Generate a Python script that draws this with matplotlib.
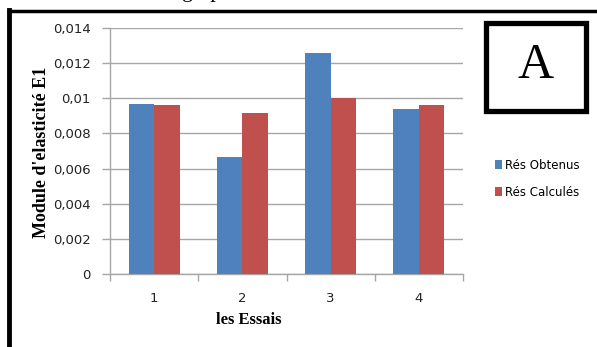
import numpy as np
import matplotlib.pyplot as plt
from matplotlib.lines import Line2D
from matplotlib.patches import Rectangle

# test values
essais = ['1', '2', '3', '4']
obtenus = [0.00967, 0.00668, 0.0126, 0.00939]
calcules = [0.0096, 0.00916, 0.00999, 0.0096]
yticks = [0, 0.002, 0.004, 0.006, 0.008, 0.01, 0.012, 0.014]
ytick_labels = ['0', '0,002', '0,004', '0,006', '0,008', '0,01', '0,012', '0,014']

blue = '#4F81BD'
red = '#C0504D'
grid_col = '#A6A6A6'

fig = plt.figure(figsize=(5.97, 3.47), dpi=100)
W, H = 597.0, 347.0

# plot area
ax = fig.add_axes([110 / W, 1 - 274 / H, 353 / W, 246 / H])

x = np.arange(len(essais))
bw = 0.29
ax.bar(x - bw / 2, obtenus, bw, color=blue, label='Rés Obtenus', zorder=3)
ax.bar(x + bw / 2, calcules, bw, color=red, label='Rés Calculés', zorder=3)

ax.set_xlim(-0.5, len(essais) - 0.5)
ax.set_ylim(0, 0.014)
ax.set_yticks(yticks)
ax.set_yticklabels(ytick_labels)
ax.yaxis.grid(True, color=grid_col, linewidth=1.0, zorder=0)

# category ticks sit between the groups, labels in the middle
ax.set_xticks(np.arange(-0.5, len(essais), 1.0))
ax.set_xticklabels([])
ax.set_xticks(x, minor=True)
ax.set_xticklabels(essais, minor=True)
ax.tick_params(axis='x', which='major', length=5, color=grid_col, width=1)
ax.tick_params(axis='x', which='minor', length=0, pad=13)
ax.tick_params(axis='y', length=6, color=grid_col, width=1, pad=8)
for lab in ax.get_yticklabels() + ax.get_xticklabels(minor=True):
    lab.set_fontfamily('DejaVu Sans')
    lab.set_fontsize(9.5)
    lab.set_color('#222222')

for side in ['top', 'right']:
    ax.spines[side].set_visible(False)
for side in ['left', 'bottom']:
    ax.spines[side].set_color(grid_col)
    ax.spines[side].set_linewidth(1.0)

# axis titles
fig.text(42 / W, 1 - 152 / H, "Module d'elasticité E1", rotation=90,
         ha='center', va='center', fontfamily='Liberation Serif',
         fontweight='bold', fontsize=13)
fig.text(249 / W, 1 - 320 / H, 'les Essais', ha='center', va='center',
         fontfamily='Liberation Serif', fontweight='bold', fontsize=12)

leg = ax.legend(loc='center left', bbox_to_anchor=(484 / W, 1 - 179 / H),
                bbox_transform=fig.transFigure, frameon=False,
                handlelength=0.6, handleheight=0.8, handletextpad=0.3,
                labelspacing=1.2, prop={'family': 'DejaVu Sans', 'size': 8.5})

# outer frame (left and top edges)
fig.add_artist(Line2D([9 / W, 9 / W], [0, 1 - 10 / H], transform=fig.transFigure,
                      color='black', linewidth=3.5, solid_capstyle='projecting'))
fig.add_artist(Line2D([9 / W, 1], [1 - 11 / H, 1 - 11 / H], transform=fig.transFigure,
                      color='black', linewidth=2.5, solid_capstyle='projecting'))

# boxed letter
fig.add_artist(Rectangle((486 / W, 1 - 111 / H), 100 / W, 88 / H,
                         transform=fig.transFigure, fill=False,
                         edgecolor='black', linewidth=3.8))
fig.text(536 / W, 1 - 66 / H, 'A', ha='center', va='center',
         fontfamily='Liberation Serif', fontsize=36)

# caption above, only its descenders reach into the figure
fig.text(182 / W, 1 + 3 / H, 'graphe', ha='left', va='baseline',
         fontfamily='Liberation Serif', fontsize=16)

fig.savefig('out.png', dpi=100)
